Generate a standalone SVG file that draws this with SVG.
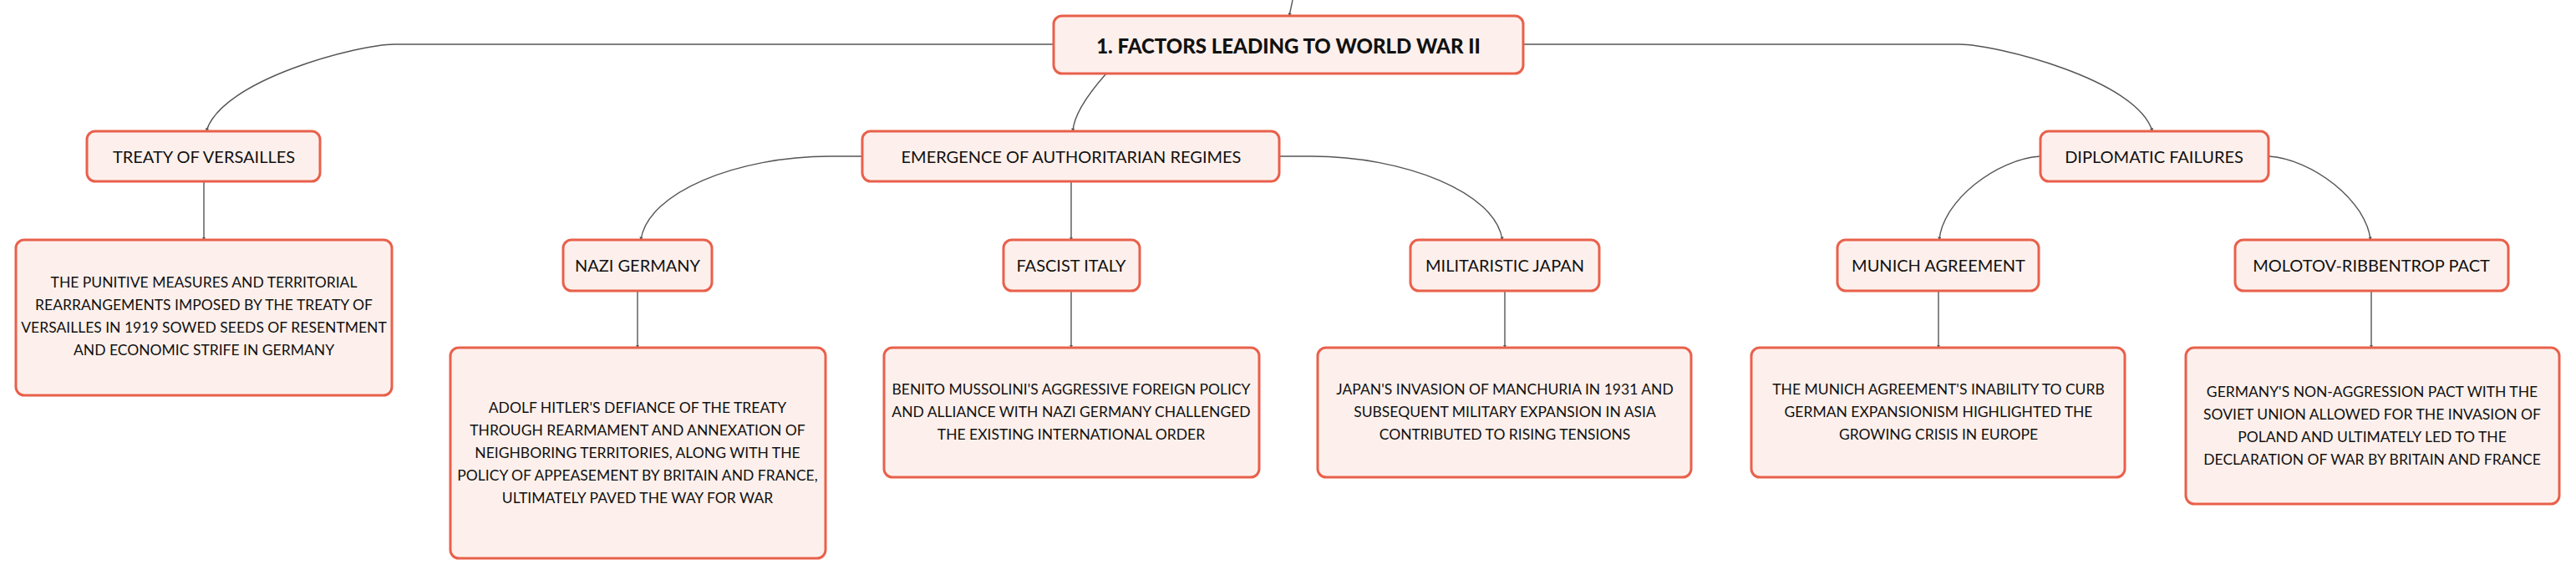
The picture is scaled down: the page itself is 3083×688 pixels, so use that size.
<svg xmlns="http://www.w3.org/2000/svg" width="3083" height="688" viewBox="0 0 3083 688">
<defs>
<style>
.box{fill:#fdf0ec;stroke:#e9604b;stroke-width:3}
.lbl{font-family:Lato,"Liberation Sans",sans-serif;font-size:20px;fill:#111;text-anchor:middle;dominant-baseline:central}
.root{font-family:Lato,"Liberation Sans",sans-serif;font-size:24px;font-weight:900;fill:#111;text-anchor:middle;dominant-baseline:central}
.desc{font-family:Lato,"Liberation Sans",sans-serif;font-size:17.5px;fill:#111;text-anchor:middle}
.con{fill:none;stroke:#555;stroke-width:1.4}
</style>
<marker id="tip" viewBox="0 0 6 6" refX="5" refY="3" markerWidth="3" markerHeight="3" orient="auto">
<path d="M0,0 L6,3 L0,6 z" fill="#555"/>
</marker>
</defs>
<rect width="3083" height="688" fill="#ffffff"/>
<g id="connectors">
<path class="con" marker-end="url(#tip)" d="M1547,0 L1543,19"/>
<path class="con" marker-end="url(#tip)" d="M1261,53 L472,53 C430,53 265,95 247,157"/>
<path class="con" marker-end="url(#tip)" d="M1324,88 C1300,115 1285,140 1284,157"/>
<path class="con" marker-end="url(#tip)" d="M1823,53 L2345,53 C2387,53 2558,95 2576,157"/>
<path class="con" marker-end="url(#tip)" d="M244,217 L244,287"/>
<path class="con" marker-end="url(#tip)" d="M1032,187 L993,187 C883,187 775,230 767,287"/>
<path class="con" marker-end="url(#tip)" d="M1282,218 L1282,287"/>
<path class="con" marker-end="url(#tip)" d="M1531,187 L1570,187 C1680,187 1790,230 1798,287"/>
<path class="con" marker-end="url(#tip)" d="M2442,187 C2390,190 2325,240 2321,287"/>
<path class="con" marker-end="url(#tip)" d="M2715,187 C2767,190 2832,240 2837,287"/>
<path class="con" marker-end="url(#tip)" d="M763,348 L763,416"/>
<path class="con" marker-end="url(#tip)" d="M1282,348 L1282,416"/>
<path class="con" marker-end="url(#tip)" d="M1801,348 L1801,416"/>
<path class="con" marker-end="url(#tip)" d="M2320,348 L2320,416"/>
<path class="con" marker-end="url(#tip)" d="M2838,348 L2838,416"/>
</g>
<g id="root">
<rect class="box" x="1261" y="19" width="562" height="69" rx="10"/>
<text class="root" x="1542" y="54">1. FACTORS LEADING TO WORLD WAR II</text>
</g>
<g id="treaty">
<rect class="box" x="104" y="157" width="279" height="60" rx="10"/>
<text class="lbl" x="244" y="187">TREATY OF VERSAILLES</text>
</g>
<g id="emergence">
<rect class="box" x="1032" y="157" width="499" height="60" rx="10"/>
<text class="lbl" x="1282" y="187">EMERGENCE OF AUTHORITARIAN REGIMES</text>
</g>
<g id="diplomatic">
<rect class="box" x="2442" y="157" width="273" height="60" rx="10"/>
<text class="lbl" x="2578" y="187">DIPLOMATIC FAILURES</text>
</g>
<g id="nazi">
<rect class="box" x="674" y="287" width="178" height="61" rx="10"/>
<text class="lbl" x="763" y="317">NAZI GERMANY</text>
</g>
<g id="fascist">
<rect class="box" x="1201" y="287" width="163" height="61" rx="10"/>
<text class="lbl" x="1282" y="317">FASCIST ITALY</text>
</g>
<g id="japan">
<rect class="box" x="1688" y="287" width="226" height="61" rx="10"/>
<text class="lbl" x="1801" y="317">MILITARISTIC JAPAN</text>
</g>
<g id="munich">
<rect class="box" x="2199" y="287" width="241" height="61" rx="10"/>
<text class="lbl" x="2320" y="317">MUNICH AGREEMENT</text>
</g>
<g id="molotov">
<rect class="box" x="2675" y="287" width="327" height="61" rx="10"/>
<text class="lbl" x="2838" y="317">MOLOTOV-RIBBENTROP PACT</text>
</g>
<g id="treaty-desc">
<rect class="box" x="19" y="287" width="450" height="186" rx="10"/>
<text class="desc" x="244" y="344">THE PUNITIVE MEASURES AND TERRITORIAL</text>
<text class="desc" x="244" y="371">REARRANGEMENTS IMPOSED BY THE TREATY OF</text>
<text class="desc" x="244" y="398">VERSAILLES IN 1919 SOWED SEEDS OF RESENTMENT</text>
<text class="desc" x="244" y="425">AND ECONOMIC STRIFE IN GERMANY</text>
</g>
<g id="nazi-desc">
<rect class="box" x="539" y="416" width="449" height="252" rx="10"/>
<text class="desc" x="763" y="494">ADOLF HITLER'S DEFIANCE OF THE TREATY</text>
<text class="desc" x="763" y="521">THROUGH REARMAMENT AND ANNEXATION OF</text>
<text class="desc" x="763" y="548">NEIGHBORING TERRITORIES, ALONG WITH THE</text>
<text class="desc" x="763" y="575">POLICY OF APPEASEMENT BY BRITAIN AND FRANCE,</text>
<text class="desc" x="763" y="602">ULTIMATELY PAVED THE WAY FOR WAR</text>
</g>
<g id="fascist-desc">
<rect class="box" x="1058" y="416" width="449" height="155" rx="10"/>
<text class="desc" x="1282" y="472">BENITO MUSSOLINI'S AGGRESSIVE FOREIGN POLICY</text>
<text class="desc" x="1282" y="499">AND ALLIANCE WITH NAZI GERMANY CHALLENGED</text>
<text class="desc" x="1282" y="526">THE EXISTING INTERNATIONAL ORDER</text>
</g>
<g id="japan-desc">
<rect class="box" x="1577" y="416" width="447" height="155" rx="10"/>
<text class="desc" x="1801" y="472">JAPAN'S INVASION OF MANCHURIA IN 1931 AND</text>
<text class="desc" x="1801" y="499">SUBSEQUENT MILITARY EXPANSION IN ASIA</text>
<text class="desc" x="1801" y="526">CONTRIBUTED TO RISING TENSIONS</text>
</g>
<g id="munich-desc">
<rect class="box" x="2096" y="416" width="447" height="155" rx="10"/>
<text class="desc" x="2320" y="472">THE MUNICH AGREEMENT'S INABILITY TO CURB</text>
<text class="desc" x="2320" y="499">GERMAN EXPANSIONISM HIGHLIGHTED THE</text>
<text class="desc" x="2320" y="526">GROWING CRISIS IN EUROPE</text>
</g>
<g id="molotov-desc">
<rect class="box" x="2616" y="416" width="447" height="187" rx="10"/>
<text class="desc" x="2839" y="475">GERMANY'S NON-AGGRESSION PACT WITH THE</text>
<text class="desc" x="2839" y="502">SOVIET UNION ALLOWED FOR THE INVASION OF</text>
<text class="desc" x="2839" y="529">POLAND AND ULTIMATELY LED TO THE</text>
<text class="desc" x="2839" y="556">DECLARATION OF WAR BY BRITAIN AND FRANCE</text>
</g>
</svg>
